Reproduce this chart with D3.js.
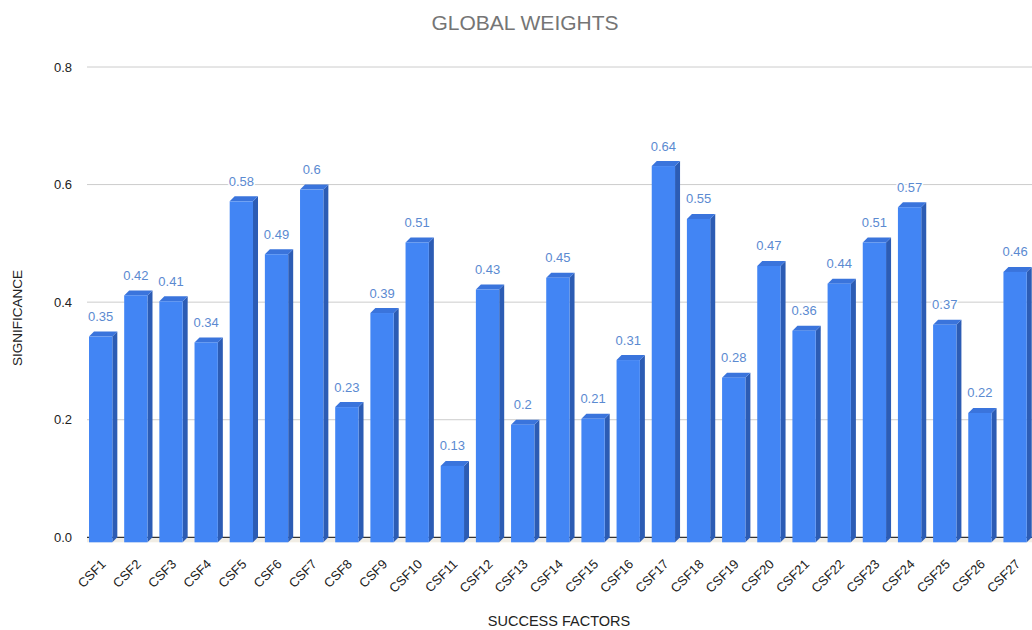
<!DOCTYPE html>
<html><head><meta charset="utf-8">
<script src="https://cdn.jsdelivr.net/npm/d3@7"></script>
<style>
html,body{margin:0;padding:0;background:#fff;}
svg{display:block;font-family:"Liberation Sans",Arial,sans-serif;}
</style></head>
<body>
<svg id="chart" width="1032" height="630"></svg>
<script>
const categories = ["CSF1","CSF2","CSF3","CSF4","CSF5","CSF6","CSF7","CSF8","CSF9","CSF10","CSF11","CSF12","CSF13","CSF14","CSF15","CSF16","CSF17","CSF18","CSF19","CSF20","CSF21","CSF22","CSF23","CSF24","CSF25","CSF26","CSF27"];
const values = [0.35,0.42,0.41,0.34,0.58,0.49,0.6,0.23,0.39,0.51,0.13,0.43,0.2,0.45,0.21,0.31,0.64,0.55,0.28,0.47,0.36,0.44,0.51,0.57,0.37,0.22,0.46];
const yTicks = [0.0,0.2,0.4,0.6,0.8];
const chartTitle = "GLOBAL WEIGHTS";
const xTitle = "SUCCESS FACTORS";
const yTitle = "SIGNIFICANCE";

const svg = d3.select("#chart");
const depth = 5;
const y = d3.scaleLinear().domain([0,0.8]).range([537.3,67]);
const step = 35.17;
const x = d3.scaleBand().domain(categories)
  .range([85.5, 85.5 + step*(27-0.195+0.2)])
  .paddingInner(0.195).paddingOuter(0.1);
const fw = x.bandwidth() - depth;

// gridlines
const yAxis = d3.axisLeft(y).tickValues(yTicks).tickFormat(d3.format(".1f")).tickSize(0).tickPadding(0);
const gy = svg.append("g").attr("transform","translate(72,0)").call(yAxis);
gy.select(".domain").remove();
gy.selectAll("text").attr("font-size",13).attr("fill","#222").attr("dy","0.32em").attr("x",0);

svg.append("g").selectAll("line").data(yTicks.filter(d=>d>0)).join("line")
  .attr("x1",87).attr("x2",1032).attr("y1",d=>y(d)).attr("y2",d=>y(d))
  .attr("stroke","#cccccc").attr("stroke-width",1);

// floor shading
svg.append("rect").attr("x",87).attr("y",y(0)).attr("width",945).attr("height",5).attr("fill","#f1ede4");
svg.append("line").attr("x1",87).attr("x2",1032).attr("y1",y(0)).attr("y2",y(0))
  .attr("stroke","#333").attr("stroke-width",1.2);

// bars
const bars = svg.append("g").selectAll("g").data(categories.map((c,i)=>({c,v:values[i]}))).join("g");
bars.append("path").attr("fill","#2c5cb4").attr("d",d=>{
  const x0 = x(d.c)+fw, yt=y(d.v), yb=y(0);
  return `M${x0},${yt+depth}L${x0+depth},${yt}L${x0+depth},${yb}L${x0},${yb+depth}Z`;
});
bars.append("path").attr("fill","#3a74dc").attr("d",d=>{
  const x0 = x(d.c), yt=y(d.v);
  return `M${x0},${yt+depth}L${x0+depth},${yt}L${x0+fw+depth},${yt}L${x0+fw},${yt+depth}Z`;
});
bars.append("rect").attr("fill","#4285f4")
  .attr("x",d=>x(d.c)).attr("y",d=>y(d.v)+depth)
  .attr("width",fw).attr("height",d=>y(0)-y(d.v));
bars.append("text").attr("x",d=>x(d.c)+fw/2).attr("y",d=>y(d.v)-10.5)
  .attr("text-anchor","middle").attr("font-size",13).attr("fill","#5b8ad1")
  .attr("stroke","#fff").attr("stroke-width",3).attr("paint-order","stroke")
  .text(d=>String(d.v));

// x labels
const xAxis = d3.axisBottom(x).tickSize(0).tickPadding(0);
const gx = svg.append("g").attr("transform","translate(0,0)").call(xAxis);
gx.select(".domain").remove();
gx.selectAll(".tick").attr("transform",null);
gx.selectAll(".tick text")
  .attr("y",null).attr("dy",null)
  .attr("text-anchor","end").attr("font-size",13).attr("fill","#222")
  .attr("transform",d=>`translate(${x(d)+fw/2+6},565) rotate(-45)`);

// titles
svg.append("text").attr("x",525).attr("y",30).attr("text-anchor","middle")
  .attr("font-size",21).attr("fill","#757575").text(chartTitle);
svg.append("text").attr("x",559).attr("y",626).attr("text-anchor","middle")
  .attr("font-size",14.5).attr("fill","#222").text(xTitle);
svg.append("text").attr("transform","translate(22,318) rotate(-90)").attr("text-anchor","middle")
  .attr("font-size",13.5).attr("fill","#222").text(yTitle);
</script>
</body></html>
